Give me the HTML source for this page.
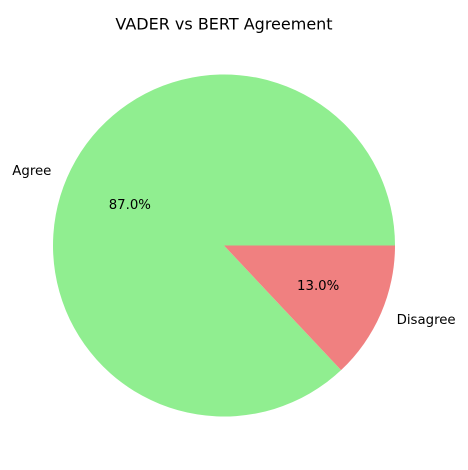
<!DOCTYPE html>
<html><head><meta charset="utf-8"><style>
body{margin:0;background:#fff;}
svg{display:block;font-family:"DejaVu Sans","Liberation Sans",sans-serif;}
</style></head><body>
<svg id="chart" width="468" height="470" viewBox="0 0 468 470">
<text x="224" y="25" text-anchor="middle" font-size="16" dominant-baseline="middle">VADER vs BERT Agreement</text>
<g id="slices"></g>
</svg>
<script>
const categories = ["Agree", "Disagree"];
const values = [87, 13];
const colors = ["#90ee90", "#f08080"];
const cx = 224, cy = 245.5, r = 171;
const svg = document.getElementById('slices');
const NS = "http://www.w3.org/2000/svg";
const total = values.reduce((a, b) => a + b, 0);
let start = 0;
values.forEach((v, i) => {
  const sweep = v / total * 2 * Math.PI;
  const a0 = start, a1 = start + sweep;
  const x0 = cx + r * Math.cos(a0), y0 = cy - r * Math.sin(a0);
  const x1 = cx + r * Math.cos(a1), y1 = cy - r * Math.sin(a1);
  const large = sweep > Math.PI ? 1 : 0;
  const p = document.createElementNS(NS, 'path');
  p.setAttribute('d', `M${cx},${cy} L${x0},${y0} A${r},${r} 0 ${large} 0 ${x1},${y1} Z`);
  p.setAttribute('fill', colors[i]);
  
  
  svg.appendChild(p);
  const mid = (a0 + a1) / 2;
  const lx = cx + 1.1 * r * Math.cos(mid), ly = cy - 1.1 * r * Math.sin(mid);
  const t = document.createElementNS(NS, 'text');
  t.setAttribute('x', lx); t.setAttribute('y', ly);
  t.setAttribute('text-anchor', Math.cos(mid) < 0 ? 'end' : 'start');
  t.setAttribute('dominant-baseline', 'middle');
  t.setAttribute('font-size', '13.3');
  t.textContent = categories[i];
  
  
  svg.appendChild(t);
  const px = cx + 0.6 * r * Math.cos(mid), py = cy - 0.6 * r * Math.sin(mid);
  const pt = document.createElementNS(NS, 'text');
  pt.setAttribute('x', px); pt.setAttribute('y', py);
  pt.setAttribute('text-anchor', 'middle');
  pt.setAttribute('dominant-baseline', 'middle');
  pt.setAttribute('font-size', '13.3');
  pt.textContent = (v / total * 100).toFixed(1) + '%';
  
  
  svg.appendChild(pt);
  start = a1;
});
</script>
</body></html>
